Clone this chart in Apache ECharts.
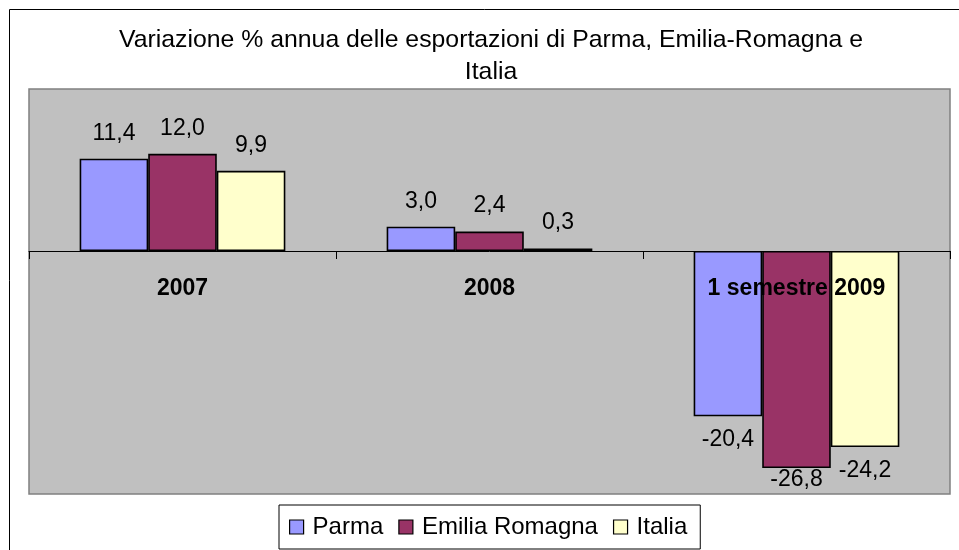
<!DOCTYPE html>
<html>
<head>
<meta charset="utf-8">
<script src="https://cdn.jsdelivr.net/npm/echarts@6/dist/echarts.min.js"></script>
<style>
  html, body { margin: 0; padding: 0; background: #fff; }
  #chart { width: 959px; height: 550px; }
</style>
</head>
<body>
<div id="chart"></div>
<script>
const categories = ['2007', '2008', '1 semestre 2009'];
const parma = [11.4, 3.0, -20.4];
const emiliaRomagna = [12.0, 2.4, -26.8];
const italia = [9.9, 0.3, -24.2];

const seriesNames = ['Parma', 'Emilia Romagna', 'Italia'];
const seriesColors = ['#9999FF', '#993366', '#FFFFCC'];

// plot box, same as the grid below
const gridTop = 89, gridHeight = 405;
const yMin = -30, yMax = 20;
const labelSize = 23;

function toPx(v) {
    return gridTop + (yMax - v) / (yMax - yMin) * gridHeight;
}

function makeSeries(name, data, color) {
    return {
        name: name,
        type: 'bar',
        barGap: '0%',
        barCategoryGap: '33%',
        itemStyle: { color: color, borderColor: '#000', borderWidth: 1.6 },
        label: {
            show: true,
            color: '#000',
            fontSize: labelSize,
            formatter: (p) => p.value.toFixed(1).replace('.', ',')
        },
        data: data.map((v) => {
            let pos = v < 0 ? 'bottom' : 'top';
            let dist = v < 0 ? 12 : 14;
            // keep labels of very long bars inside the plot, as Excel does
            if (v < 0 && toPx(v) + dist + labelSize > gridTop + gridHeight) dist = 0;
            return { value: v, label: { position: pos, distance: dist } };
        })
    };
}

const chart = echarts.init(document.getElementById('chart'));

const option = {
    animation: false,
    textStyle: { fontFamily: 'Liberation Sans, Arial' },
    graphic: [{
        type: 'rect',
        shape: { x: 9.5, y: 9.5, width: 980, height: 600 },
        style: { fill: 'none', stroke: '#000', lineWidth: 1 },
        z: -1
    }],
    title: {
        text: 'Variazione % annua delle esportazioni di Parma, Emilia-Romagna e\nItalia',
        left: 486,
        textAlign: 'center',
        top: 19,
        textStyle: {
            fontFamily: 'Liberation Sans, Arial',
            fontSize: 24.8,
            fontWeight: 'normal',
            color: '#000',
            lineHeight: 32
        }
    },
    legend: {
        data: seriesNames,
        left: 279,
        top: 505,
        orient: 'horizontal',
        borderColor: '#000',
        borderWidth: 1,
        padding: [10, 13, 10, 10],
        itemGap: 15,
        itemWidth: 14,
        itemHeight: 14,
        icon: 'rect',
        itemStyle: { borderColor: '#000', borderWidth: 1.2 },
        textStyle: { fontSize: 24, color: '#000', padding: [0, 0, 0, 4] }
    },
    grid: {
        left: 29,
        top: gridTop,
        width: 921,
        height: gridHeight,
        show: true,
        backgroundColor: '#C0C0C0',
        borderColor: '#808080',
        borderWidth: 1.5,
        containLabel: false
    },
    xAxis: {
        type: 'category',
        data: categories,
        axisLine: { onZero: true, lineStyle: { color: '#000', width: 1 } },
        axisTick: { show: true, length: 8, lineStyle: { color: '#000' } },
        axisLabel: {
            // labels stay at the grid bottom, pull them up under the zero line
            margin: -217,
            fontSize: 23,
            fontWeight: 'bold',
            color: '#000'
        },
        z: 10
    },
    yAxis: {
        type: 'value',
        min: yMin,
        max: yMax,
        interval: 10,
        axisLine: { show: false },
        axisTick: { show: false },
        axisLabel: { show: false },
        splitLine: { show: false }
    },
    series: [
        makeSeries(seriesNames[0], parma, seriesColors[0]),
        makeSeries(seriesNames[1], emiliaRomagna, seriesColors[1]),
        makeSeries(seriesNames[2], italia, seriesColors[2])
    ]
};

chart.setOption(option);
</script>
</body>
</html>
